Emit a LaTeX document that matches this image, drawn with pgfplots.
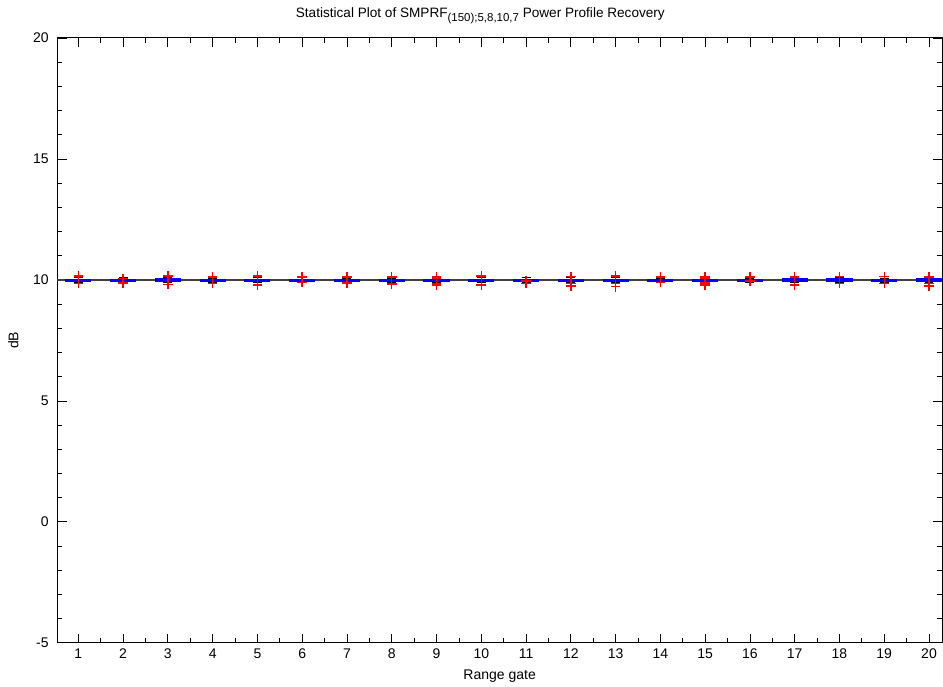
\documentclass[border=0pt]{standalone}
\usepackage{pgfplots}
\pgfplotsset{compat=1.18}
\usepgfplotslibrary{statistics}
\usepackage{fontspec}
\setmainfont{Liberation Sans}
\newcommand{\bx}[6]{\addplot[draw=blue, fill=blue, line width=1.1pt, mark=+, mark size=3.6pt,
  mark options={red, solid, line width=1.1pt},
  boxplot/draw direction=y,
  boxplot/every whisker/.style={black, line width=0.7pt},
  boxplot/every median/.style={blue, line width=1.1pt},
  boxplot prepared={draw position=#1, median=9.985, lower quartile=#2, upper quartile=#3,
    lower whisker=#4, upper whisker=#5, box extend=0.55, whisker extend=0.2}]
  table[row sep=\\, y index=0] {#6};}
\begin{document}
\begin{tikzpicture}
\begin{axis}[
  name=ax,
  scale only axis, width=664pt, height=454pt,
  xmin=0.53, xmax=20.29, ymin=-5, ymax=20,
  xtick={1,...,20}, ytick={-5,0,...,20},
  minor xtick={1.5,2.5,...,19.5}, minor ytick={-4,-3,...,19},
  tick align=inside, major tick length=7pt, minor tick length=3.5pt,
  every tick/.style={black, line width=0.6pt},
  axis line style={black, line width=0.75pt},
  xticklabel style={font=\fontsize{10.5}{12}\selectfont, yshift=-1pt},
  yticklabel style={font=\fontsize{10.5}{12}\selectfont, xshift=-3pt},
  /pgf/number format/assume math mode=true,
  xlabel={Range gate}, ylabel={dB},
  xlabel style={font=\fontsize{10.5}{12}\selectfont, yshift=-1.5pt},
  ylabel style={font=\fontsize{10.5}{12}\selectfont, yshift=4pt},
  title={Statistical Plot of SMPRF\raisebox{-3.2pt}{\fontsize{8.6}{10}\selectfont (150);5,8,10,7} Power Profile Recovery},
  title style={font=\fontsize{10.2}{12}\selectfont, yshift=1pt, xshift=-14.5pt},
  clip=false,
]
\addplot[black!75, line width=1.2pt, forget plot] coordinates {(0.53,10) (20.29,10)};
\bx{1}{9.95}{10.01}{9.90}{10.09}{10.17\\ 9.86\\}
\bx{2}{9.95}{10.01}{9.90}{10.10}{10.05\\ 9.88\\}
\bx{3}{9.95}{10.03}{9.88}{10.09}{10.17\\ 9.82\\}
\bx{4}{9.95}{10.01}{9.90}{10.08}{10.12\\ 9.85\\}
\bx{5}{9.95}{10.01}{9.89}{10.09}{10.17\\ 9.80\\}
\bx{6}{9.95}{10.01}{9.90}{10.10}{10.12\\ 9.90\\}
\bx{7}{9.95}{10.00}{9.90}{10.08}{10.13\\ 9.88\\}
\bx{8}{9.95}{10.00}{9.89}{10.08}{10.12\\ 9.82\\ 9.86\\}
\bx{9}{9.94}{10.00}{9.90}{10.08}{10.12\\ 10.05\\ 9.86\\ 9.80\\}
\bx{10}{9.95}{10.00}{9.89}{10.09}{10.16\\ 9.80\\}
\bx{11}{9.96}{10.00}{9.90}{10.10}{9.96\\ 9.86\\}
\bx{12}{9.95}{10.00}{9.89}{10.09}{10.15\\ 9.85\\ 9.75\\}
\bx{13}{9.95}{10.00}{9.89}{10.09}{10.16\\ 9.85\\ 9.72\\}
\bx{14}{9.95}{10.00}{9.90}{10.08}{10.12\\ 9.90\\}
\bx{15}{9.95}{10.01}{9.90}{10.10}{10.12\\ 10.05\\ 9.88\\ 9.80\\}
\bx{16}{9.95}{10.00}{9.90}{10.08}{10.12\\ 9.96\\}
\bx{17}{9.94}{10.03}{9.89}{10.09}{10.12\\ 9.82\\ 9.78\\}
\bx{18}{9.95}{10.03}{9.90}{10.09}{10.15\\ 9.85\\}
\bx{19}{9.95}{10.00}{9.90}{10.08}{10.15\\ 9.85\\}
\bx{20}{9.95}{10.03}{9.89}{10.08}{10.12\\ 9.85\\ 9.75\\}
\end{axis}
\path ([xshift=-43pt,yshift=-32.25pt]ax.south west) -- ([xshift=0.75pt,yshift=28.5pt]ax.north east);
\end{tikzpicture}
\end{document}
